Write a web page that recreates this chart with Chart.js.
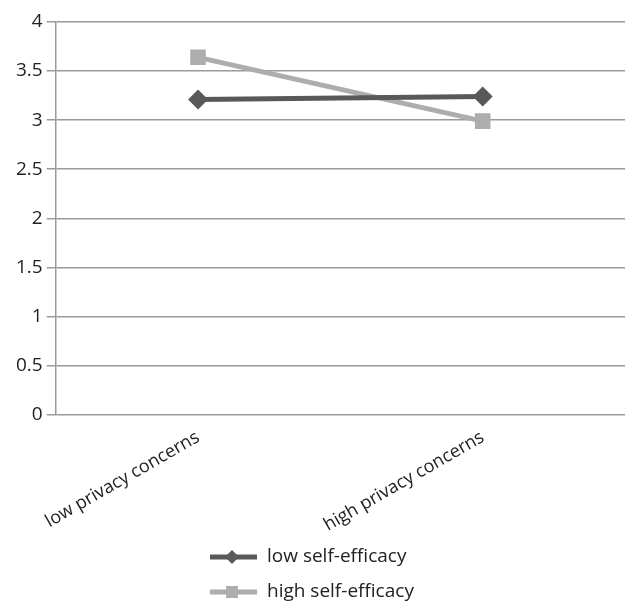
<!DOCTYPE html>
<html>
<head>
<meta charset="utf-8">
<script src="https://cdn.jsdelivr.net/npm/chart.js@4/dist/chart.umd.min.js"></script>
<style>
  html, body { margin: 0; padding: 0; background: #fff; }
  #wrap { width: 636px; height: 601px; }
</style>
</head>
<body>
<div id="wrap"><canvas id="chart"></canvas></div>
<script>
// data
const categories = ['low privacy concerns', 'high privacy concerns'];
const lowSelfEfficacy = [3.21, 3.24];
const highSelfEfficacy = [3.64, 2.99];
const yTicks = [0, 0.5, 1, 1.5, 2, 2.5, 3, 3.5, 4];

const FONT = '"Open Sans", sans-serif';

// legend drawn below the labels, one item per line
const stackedLegend = {
  id: 'stackedLegend',
  afterDraw(chart) {
    const ctx = chart.ctx;
    const items = chart.data.datasets;
    ctx.save();
    items.forEach((ds, i) => {
      const y = 557 + i * 35;
      const x0 = 210;
      ctx.strokeStyle = ds.borderColor;
      ctx.lineWidth = 5;
      ctx.beginPath();
      ctx.moveTo(x0, y);
      ctx.lineTo(x0 + 47, y);
      ctx.stroke();
      ctx.fillStyle = ds.backgroundColor;
      const cx = x0 + 22;
      if (ds.pointStyle === 'rectRot') {
        ctx.beginPath();
        ctx.moveTo(cx, y - 7);
        ctx.lineTo(cx + 7, y);
        ctx.lineTo(cx, y + 7);
        ctx.lineTo(cx - 7, y);
        ctx.closePath();
        ctx.fill();
      } else {
        ctx.fillRect(cx - 6, y - 6, 12, 12);
      }
      ctx.fillStyle = '#222';
      ctx.font = '19px ' + FONT;
      ctx.textBaseline = 'middle';
      ctx.textAlign = 'left';
      ctx.fillText(ds.label, x0 + 57, y);
    });
    ctx.restore();
  }
};

new Chart(document.getElementById('chart'), {
  type: 'line',
  data: {
    labels: categories,
    datasets: [{
      label: 'low self-efficacy',
      data: lowSelfEfficacy,
      borderColor: '#595959',
      backgroundColor: '#595959',
      borderWidth: 5,
      pointStyle: 'rectRot',
      pointRadius: 10,
      pointBorderWidth: 0
    }, {
      label: 'high self-efficacy',
      data: highSelfEfficacy,
      borderColor: '#adadad',
      backgroundColor: '#adadad',
      borderWidth: 5,
      pointStyle: 'rect',
      pointRadius: 11,
      pointBorderWidth: 0
    }]
  },
  options: {
    responsive: true,
    maintainAspectRatio: false,
    animation: false,
    layout: { padding: { top: 22, right: 0, left: 12, bottom: 61 } },
    plugins: {
      legend: { display: false },
      tooltip: { enabled: false }
    },
    scales: {
      x: {
        offset: true,
        grid: { display: false },
        border: { display: false },
        ticks: {
          color: '#222',
          font: { family: FONT, size: 18 },
          minRotation: 30,
          maxRotation: 30,
          padding: 4
        }
      },
      y: {
        min: 0,
        max: 4,
        afterBuildTicks: axis => { axis.ticks = yTicks.map(v => ({ value: v })); },
        grid: { color: '#9a9a9a', lineWidth: 1.5, tickLength: 9 },
        border: { color: '#9a9a9a', width: 1.5 },
        ticks: {
          color: '#222',
          font: { family: FONT, size: 19 },
          padding: 4,
          callback: v => String(v)
        }
      }
    }
  },
  plugins: [stackedLegend]
});
</script>
</body>
</html>
